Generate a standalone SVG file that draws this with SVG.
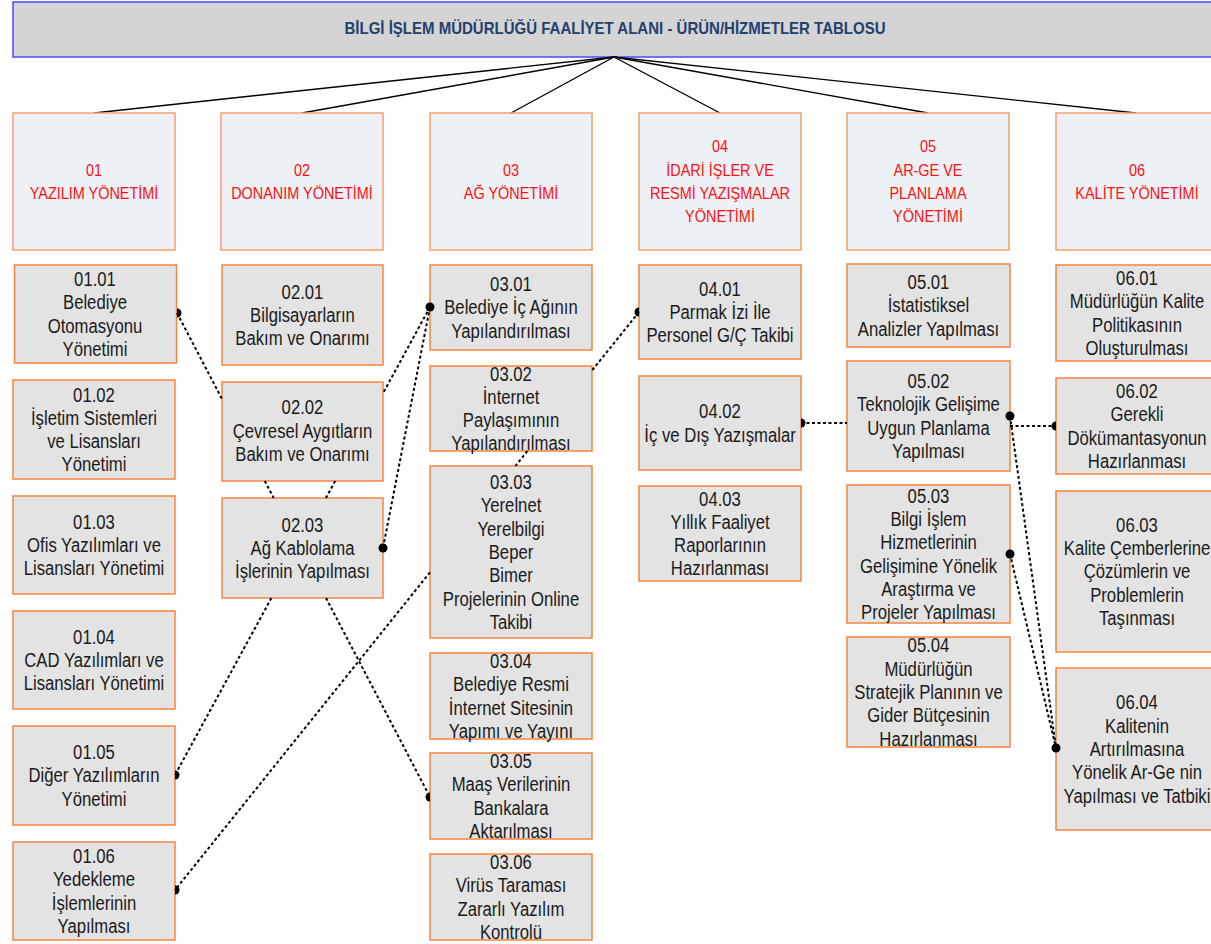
<svg xmlns="http://www.w3.org/2000/svg" width="1211" height="944" viewBox="0 0 1211 944">
<defs>
<style>
.hdr{fill:#d4d4d4;stroke:#4a4aff;stroke-width:1.5}
.title{font-family:"Liberation Sans",Arial,sans-serif;font-weight:bold;font-size:16.5px;fill:#23406e;text-anchor:middle}
.l1{fill:#edf0f5;stroke:#f9a066;stroke-width:1.5}
.l1t{font-family:"Liberation Sans",Arial,sans-serif;font-size:17px;fill:#ff1010;text-anchor:middle}
.l2{fill:#e3e3e3;stroke:#f8843c;stroke-width:1.5}
.l2t{font-family:"Liberation Sans",Arial,sans-serif;font-size:20px;fill:#1a1a1a;text-anchor:middle}
.tree{stroke:#000;stroke-width:1.4;fill:none}
.dot{stroke:#000;stroke-width:2;stroke-dasharray:3 2.5;fill:none}
.end{fill:#000}
</style>
</defs>
<rect width="1211" height="944" fill="#fff"/>
<g id="header">
<rect class="hdr" x="13" y="2" width="1210" height="55"/>
<g transform="translate(615 0) scale(0.91 1)"><text class="title" x="0" y="34">BİLGİ İŞLEM MÜDÜRLÜĞÜ FAALİYET ALANI - ÜRÜN/HİZMETLER TABLOSU</text></g>
</g>
<g id="tree-lines">
<line class="tree" x1="614" y1="57" x2="94" y2="113"/>
<line class="tree" x1="614" y1="57" x2="302" y2="113"/>
<line class="tree" x1="614" y1="57" x2="511" y2="113"/>
<line class="tree" x1="614" y1="57" x2="720" y2="113"/>
<line class="tree" x1="614" y1="57" x2="928" y2="113"/>
<line class="tree" x1="614" y1="57" x2="1136" y2="113"/>
</g>
<g id="n01"><rect class="l1" x="13" y="113" width="162" height="137"/><g transform="translate(94 0) scale(0.85 1)"><text class="l1t" x="0" y="176">01</text><text class="l1t" x="0" y="199">YAZILIM YÖNETİMİ</text></g></g>
<g id="n02"><rect class="l1" x="221" y="113" width="162" height="137"/><g transform="translate(302 0) scale(0.85 1)"><text class="l1t" x="0" y="176">02</text><text class="l1t" x="0" y="199">DONANIM YÖNETİMİ</text></g></g>
<g id="n03"><rect class="l1" x="430" y="113" width="162" height="137"/><g transform="translate(511 0) scale(0.85 1)"><text class="l1t" x="0" y="176">03</text><text class="l1t" x="0" y="199">AĞ YÖNETİMİ</text></g></g>
<g id="n04"><rect class="l1" x="639" y="113" width="162" height="137"/><g transform="translate(720 0) scale(0.85 1)"><text class="l1t" x="0" y="152.5">04</text><text class="l1t" x="0" y="176">İDARİ İŞLER VE</text><text class="l1t" x="0" y="199">RESMİ YAZIŞMALAR</text><text class="l1t" x="0" y="222.5">YÖNETİMİ</text></g></g>
<g id="n05"><rect class="l1" x="847" y="113" width="162" height="137"/><g transform="translate(928 0) scale(0.85 1)"><text class="l1t" x="0" y="152.5">05</text><text class="l1t" x="0" y="176">AR-GE VE</text><text class="l1t" x="0" y="199">PLANLAMA</text><text class="l1t" x="0" y="222.5">YÖNETİMİ</text></g></g>
<g id="n06"><rect class="l1" x="1056" y="113" width="162" height="137"/><g transform="translate(1137 0) scale(0.85 1)"><text class="l1t" x="0" y="176">06</text><text class="l1t" x="0" y="199">KALİTE YÖNETİMİ</text></g></g>

<g id="n0101"><rect class="l2" x="14.5" y="265" width="162" height="98"/><g transform="translate(95 0) scale(0.835 1)"><text class="l2t" x="0" y="286.1">01.01</text><text class="l2t" x="0" y="309.4">Belediye</text><text class="l2t" x="0" y="332.7">Otomasyonu</text><text class="l2t" x="0" y="356">Yönetimi</text></g></g>
<g id="n0102"><rect class="l2" x="13" y="380" width="162" height="99"/><g transform="translate(94 0) scale(0.835 1)"><text class="l2t" x="0" y="401.6">01.02</text><text class="l2t" x="0" y="424.9">İşletim Sistemleri</text><text class="l2t" x="0" y="448.2">ve Lisansları</text><text class="l2t" x="0" y="471.5">Yönetimi</text></g></g>
<g id="n0103"><rect class="l2" x="13" y="496" width="162" height="98"/><g transform="translate(94 0) scale(0.835 1)"><text class="l2t" x="0" y="528.7">01.03</text><text class="l2t" x="0" y="552">Ofis Yazılımları ve</text><text class="l2t" x="0" y="575.3">Lisansları Yönetimi</text></g></g>
<g id="n0104"><rect class="l2" x="13" y="611" width="162" height="98"/><g transform="translate(94 0) scale(0.835 1)"><text class="l2t" x="0" y="643.7">01.04</text><text class="l2t" x="0" y="667">CAD Yazılımları ve</text><text class="l2t" x="0" y="690.3">Lisansları Yönetimi</text></g></g>
<g id="n0105"><rect class="l2" x="13" y="726" width="162" height="99"/><g transform="translate(94 0) scale(0.835 1)"><text class="l2t" x="0" y="759">01.05</text><text class="l2t" x="0" y="782.3">Diğer Yazılımların</text><text class="l2t" x="0" y="805.6">Yönetimi</text></g></g>
<g id="n0106"><rect class="l2" x="13" y="842" width="162" height="98"/><g transform="translate(94 0) scale(0.835 1)"><text class="l2t" x="0" y="863.1">01.06</text><text class="l2t" x="0" y="886.4">Yedekleme</text><text class="l2t" x="0" y="909.7">İşlemlerinin</text><text class="l2t" x="0" y="933">Yapılması</text></g></g>

<g id="n0201"><rect class="l2" x="222" y="265" width="161" height="100"/><g transform="translate(302.5 0) scale(0.835 1)"><text class="l2t" x="0" y="298.7">02.01</text><text class="l2t" x="0" y="322">Bilgisayarların</text><text class="l2t" x="0" y="345.3">Bakım ve Onarımı</text></g></g>
<g id="n0202"><rect class="l2" x="222" y="382" width="161" height="99"/><g transform="translate(302.5 0) scale(0.835 1)"><text class="l2t" x="0" y="414.5">02.02</text><text class="l2t" x="0" y="437.8">Çevresel Aygıtların</text><text class="l2t" x="0" y="461.1">Bakım ve Onarımı</text></g></g>
<g id="n0203"><rect class="l2" x="222" y="498" width="161" height="100"/><g transform="translate(302.5 0) scale(0.835 1)"><text class="l2t" x="0" y="531.7">02.03</text><text class="l2t" x="0" y="555">Ağ Kablolama</text><text class="l2t" x="0" y="578.3">İşlerinin Yapılması</text></g></g>

<g id="n0301"><rect class="l2" x="430" y="265" width="162" height="85"/><g transform="translate(511 0) scale(0.835 1)"><text class="l2t" x="0" y="291.2">03.01</text><text class="l2t" x="0" y="314.5">Belediye İç Ağının</text><text class="l2t" x="0" y="337.8">Yapılandırılması</text></g></g>
<g id="n0302"><rect class="l2" x="430" y="366" width="162" height="85"/><g transform="translate(511 0) scale(0.835 1)"><text class="l2t" x="0" y="380.6">03.02</text><text class="l2t" x="0" y="403.9">İnternet</text><text class="l2t" x="0" y="427.2">Paylaşımının</text><text class="l2t" x="0" y="450.5">Yapılandırılması</text></g></g>
<g id="n0303"><rect class="l2" x="430" y="466" width="162" height="172"/><g transform="translate(511 0) scale(0.835 1)"><text class="l2t" x="0" y="489.1">03.03</text><text class="l2t" x="0" y="512.4">Yerelnet</text><text class="l2t" x="0" y="535.7">Yerelbilgi</text><text class="l2t" x="0" y="559">Beper</text><text class="l2t" x="0" y="582.3">Bimer</text><text class="l2t" x="0" y="605.6">Projelerinin Online</text><text class="l2t" x="0" y="628.9">Takibi</text></g></g>
<g id="n0304"><rect class="l2" x="430" y="653" width="162" height="86"/><g transform="translate(511 0) scale(0.835 1)"><text class="l2t" x="0" y="668.1">03.04</text><text class="l2t" x="0" y="691.4">Belediye Resmi</text><text class="l2t" x="0" y="714.7">İnternet Sitesinin</text><text class="l2t" x="0" y="738">Yapımı ve Yayını</text></g></g>
<g id="n0305"><rect class="l2" x="430" y="753" width="162" height="86"/><g transform="translate(511 0) scale(0.835 1)"><text class="l2t" x="0" y="768.1">03.05</text><text class="l2t" x="0" y="791.4">Maaş Verilerinin</text><text class="l2t" x="0" y="814.7">Bankalara</text><text class="l2t" x="0" y="838">Aktarılması</text></g></g>
<g id="n0306"><rect class="l2" x="430" y="854" width="162" height="86"/><g transform="translate(511 0) scale(0.835 1)"><text class="l2t" x="0" y="869.1">03.06</text><text class="l2t" x="0" y="892.4">Virüs Taraması</text><text class="l2t" x="0" y="915.7">Zararlı Yazılım</text><text class="l2t" x="0" y="939">Kontrolü</text></g></g>

<g id="n0401"><rect class="l2" x="639" y="265" width="162" height="94"/><g transform="translate(720 0) scale(0.835 1)"><text class="l2t" x="0" y="295.7">04.01</text><text class="l2t" x="0" y="319">Parmak İzi İle</text><text class="l2t" x="0" y="342.3">Personel G/Ç Takibi</text></g></g>
<g id="n0402"><rect class="l2" x="639" y="376" width="162" height="94"/><g transform="translate(720 0) scale(0.835 1)"><text class="l2t" x="0" y="418.4">04.02</text><text class="l2t" x="0" y="441.7">İç ve Dış Yazışmalar</text></g></g>
<g id="n0403"><rect class="l2" x="639" y="486" width="162" height="95"/><g transform="translate(720 0) scale(0.835 1)"><text class="l2t" x="0" y="505.6">04.03</text><text class="l2t" x="0" y="528.9">Yıllık Faaliyet</text><text class="l2t" x="0" y="552.2">Raporlarının</text><text class="l2t" x="0" y="575.5">Hazırlanması</text></g></g>

<g id="n0501"><rect class="l2" x="847" y="264" width="163" height="83"/><g transform="translate(928.5 0) scale(0.835 1)"><text class="l2t" x="0" y="289.2">05.01</text><text class="l2t" x="0" y="312.5">İstatistiksel</text><text class="l2t" x="0" y="335.8">Analizler Yapılması</text></g></g>
<g id="n0502"><rect class="l2" x="847" y="361" width="163" height="110"/><g transform="translate(928.5 0) scale(0.835 1)"><text class="l2t" x="0" y="388.1">05.02</text><text class="l2t" x="0" y="411.4">Teknolojik Gelişime</text><text class="l2t" x="0" y="434.7">Uygun Planlama</text><text class="l2t" x="0" y="458">Yapılması</text></g></g>
<g id="n0503"><rect class="l2" x="847" y="485" width="163" height="138"/><g transform="translate(928.5 0) scale(0.835 1)"><text class="l2t" x="0" y="502.8">05.03</text><text class="l2t" x="0" y="526.1">Bilgi İşlem</text><text class="l2t" x="0" y="549.4">Hizmetlerinin</text><text class="l2t" x="0" y="572.7">Gelişimine Yönelik</text><text class="l2t" x="0" y="596">Araştırma ve</text><text class="l2t" x="0" y="619.3">Projeler Yapılması</text></g></g>
<g id="n0504"><rect class="l2" x="847" y="637" width="163" height="110"/><g transform="translate(928.5 0) scale(0.835 1)"><text class="l2t" x="0" y="652.4">05.04</text><text class="l2t" x="0" y="675.7">Müdürlüğün</text><text class="l2t" x="0" y="699">Stratejik Planının ve</text><text class="l2t" x="0" y="722.3">Gider Bütçesinin</text><text class="l2t" x="0" y="745.6">Hazırlanması</text></g></g>

<g id="n0601"><rect class="l2" x="1056" y="265" width="162" height="96"/><g transform="translate(1137 0) scale(0.835 1)"><text class="l2t" x="0" y="285.1">06.01</text><text class="l2t" x="0" y="308.4">Müdürlüğün Kalite</text><text class="l2t" x="0" y="331.7">Politikasının</text><text class="l2t" x="0" y="355">Oluşturulması</text></g></g>
<g id="n0602"><rect class="l2" x="1056" y="378" width="162" height="96"/><g transform="translate(1137 0) scale(0.835 1)"><text class="l2t" x="0" y="398.1">06.02</text><text class="l2t" x="0" y="421.4">Gerekli</text><text class="l2t" x="0" y="444.7">Dökümantasyonun</text><text class="l2t" x="0" y="468">Hazırlanması</text></g></g>
<g id="n0603"><rect class="l2" x="1056" y="491" width="162" height="161"/><g transform="translate(1137 0) scale(0.835 1)"><text class="l2t" x="0" y="531.9">06.03</text><text class="l2t" x="0" y="555.2">Kalite Çemberlerine</text><text class="l2t" x="0" y="578.5">Çözümlerin ve</text><text class="l2t" x="0" y="601.8">Problemlerin</text><text class="l2t" x="0" y="625.1">Taşınması</text></g></g>
<g id="n0604"><rect class="l2" x="1056" y="668" width="162" height="162"/><g transform="translate(1137 0) scale(0.835 1)"><text class="l2t" x="0" y="709.4">06.04</text><text class="l2t" x="0" y="732.7">Kalitenin</text><text class="l2t" x="0" y="756">Artırılmasına</text><text class="l2t" x="0" y="779.3">Yönelik Ar-Ge nin</text><text class="l2t" x="0" y="802.6">Yapılması ve Tatbiki</text></g></g>

<g id="connectors">
<path class="dot" d="M177,313 L222,399 M264.8,481 L273.7,498 M326,598 L430,797"/>
<path class="end" d="M177,308.5 A4.5,4.5 0 0 1 177,317.5 Z"/>
<path class="end" d="M430,792.5 A4.5,4.5 0 0 0 430,801.5 Z"/>
<path class="dot" d="M430,307 L383,393.3 M335.2,481 L325.9,498 M271.4,598 L175,775"/>
<circle class="end" cx="430" cy="307" r="4.5"/>
<path class="end" d="M175,770.5 A4.5,4.5 0 0 1 175,779.5 Z"/>
<path class="dot" d="M430,307 L383,548"/>
<circle class="end" cx="383" cy="548" r="4.5"/>
<path class="dot" d="M639,312 L592,370.5 M527.4,451 L515.4,466 M430,572.3 L175,890"/>
<path class="end" d="M639,307.5 A4.5,4.5 0 0 0 639,316.5 Z"/>
<path class="end" d="M175,885.5 A4.5,4.5 0 0 1 175,894.5 Z"/>
<path class="dot" d="M801,423 L847,423"/>
<path class="end" d="M801,418.5 A4.5,4.5 0 0 1 801,427.5 Z"/>
<path class="dot" d="M1010,426 L1056,426"/>
<path class="end" d="M1056,421.5 A4.5,4.5 0 0 0 1056,430.5 Z"/>
<path class="dot" d="M1010,416 L1056,748"/>
<circle class="end" cx="1010" cy="416" r="4.5"/>
<path class="dot" d="M1010,554 L1056,748"/>
<circle class="end" cx="1010" cy="554" r="4.5"/>
<circle class="end" cx="1056" cy="748" r="4.5"/>
</g>
</svg>
